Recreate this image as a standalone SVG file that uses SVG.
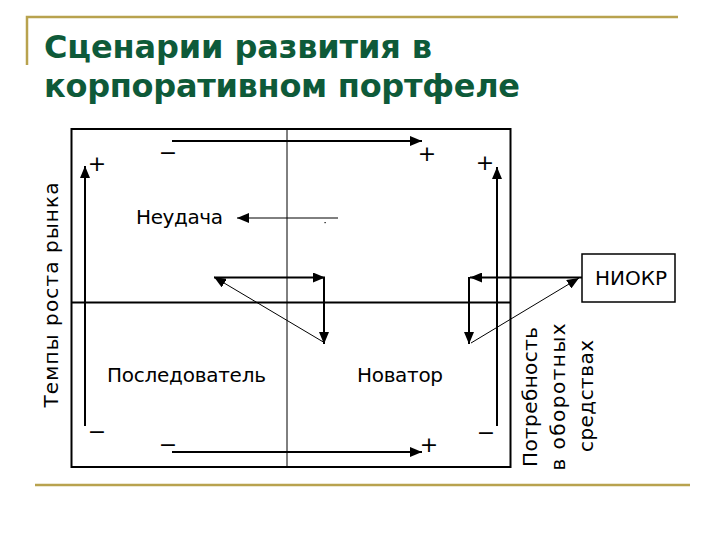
<svg xmlns="http://www.w3.org/2000/svg" width="720" height="540" viewBox="0 0 720 540">
<style>
.title{font-family:"DejaVu Sans","Liberation Sans",sans-serif;font-weight:bold;font-size:32px;fill:#0e5a39}
.lbl{font-family:"DejaVu Sans","Liberation Sans",sans-serif;font-size:20px;fill:#000}
.sign{font-family:"DejaVu Sans","Liberation Sans",sans-serif;font-size:22px;fill:#000;text-anchor:middle}
.gold{stroke:#b8a24e;stroke-width:2.5;fill:none}
.thick{stroke:#000;stroke-width:2;fill:none}
.thin{stroke:#000;stroke-width:1;fill:none}
.arr{marker-end:url(#ah)}
</style>
<defs>
<marker id="ah" markerUnits="userSpaceOnUse" markerWidth="12" markerHeight="10" refX="12" refY="5" orient="auto" viewBox="0 0 12 10">
<path d="M0,0 L12,5 L0,10 z" fill="#000"/>
</marker>
</defs>
<g id="frame">
<polyline class="gold" points="27,65 27,17 678,17"/>
<line class="gold" x1="35" y1="485" x2="690" y2="485"/>
</g>
<g id="title">
<text class="title" x="44" y="58" textLength="388">Сценарии развития в</text>
<text class="title" x="44" y="97" textLength="476">корпоративном портфеле</text>
</g>
<g id="matrix">
<rect x="71.5" y="129" width="439" height="338" fill="none" stroke="#000" stroke-width="2"/>
<line class="thin" x1="287" y1="129" x2="287" y2="467"/>
<line class="thick" x1="71" y1="302.5" x2="511" y2="302.5"/>
</g>
<g id="axis-left">
<text class="lbl" x="58" y="295" text-anchor="middle" textLength="225" transform="rotate(-90 58 295)">Темпы роста рынка</text>
</g>
<g id="axis-right">
<text class="lbl" x="537" y="397" text-anchor="middle" textLength="140" transform="rotate(-90 537 397)">Потребность</text>
<text class="lbl" x="565" y="397" text-anchor="middle" textLength="147" transform="rotate(-90 565 397)">в оборотных</text>
<text class="lbl" x="593" y="396" text-anchor="middle" textLength="112" transform="rotate(-90 593 396)">средствах</text>
</g>
<g id="node-neudacha">
<text class="lbl" x="136" y="224" textLength="87">Неудача</text>
</g>
<g id="node-posledovatel">
<text class="lbl" x="107" y="382" textLength="159">Последователь</text>
</g>
<g id="node-novator">
<text class="lbl" x="357" y="382" textLength="86">Новатор</text>
</g>
<g id="node-niokr">
<rect x="582" y="254" width="93" height="48" fill="#fff" stroke="#000" stroke-width="1.5"/>
<text class="lbl" x="595" y="285" font-size="18" textLength="72">НИОКР</text>
</g>
<g id="connectors">
<line class="thick arr" x1="172" y1="141" x2="422" y2="141"/>
<line class="thick arr" x1="172" y1="452" x2="422" y2="452"/>
<line class="thick arr" x1="85" y1="426" x2="85" y2="166"/>
<line class="thick arr" x1="497" y1="426" x2="497" y2="167"/>
<line class="thin arr" x1="338" y1="218" x2="237" y2="218"/>
<rect x="324.5" y="222" width="1.2" height="1.2" fill="#000"/>
<line class="thin arr" x1="325" y1="343" x2="214" y2="277"/>
<line class="thick arr" x1="214" y1="277.5" x2="325" y2="277.5"/>
<line class="thick arr" x1="324" y1="277" x2="324" y2="344"/>
<line class="thick arr" x1="582" y1="277.5" x2="470" y2="277.5"/>
<line class="thick arr" x1="469" y1="277" x2="469" y2="344"/>
<line class="thin arr" x1="471" y1="343" x2="579" y2="278"/>
</g>
<g id="signs">
<text class="sign" x="97" y="170.5">+</text>
<text class="sign" x="427" y="160.5">+</text>
<text class="sign" x="485" y="169.5">+</text>
<text class="sign" x="429" y="451.5">+</text>
<text class="sign" x="168" y="159.5" fill="#555">−</text>
<text class="sign" x="97" y="439">−</text>
<text class="sign" x="168" y="451.5">−</text>
<text class="sign" x="486" y="439.5">−</text>
</g>
</svg>
